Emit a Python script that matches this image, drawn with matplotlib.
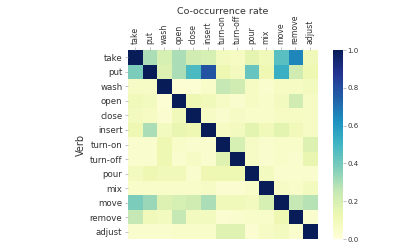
import numpy as np
import matplotlib
matplotlib.use("Agg")
import matplotlib.pyplot as plt

verbs = ["take", "put", "wash", "open", "close", "insert", "turn-on", "turn-off",
         "pour", "mix", "move", "remove", "adjust"]

take    = [1.00, 0.30, 0.20, 0.30, 0.22, 0.20, 0.08, 0.07, 0.15, 0.10, 0.45, 0.65, 0.10]
put     = [0.38, 1.00, 0.18, 0.30, 0.48, 0.78, 0.12, 0.08, 0.42, 0.12, 0.52, 0.22, 0.12]
wash    = [0.06, 0.06, 1.00, 0.02, 0.02, 0.05, 0.25, 0.22, 0.07, 0.04, 0.07, 0.07, 0.08]
open_   = [0.10, 0.08, 0.02, 1.00, 0.12, 0.10, 0.06, 0.04, 0.07, 0.05, 0.08, 0.22, 0.06]
close   = [0.08, 0.07, 0.03, 0.10, 1.00, 0.06, 0.04, 0.06, 0.05, 0.05, 0.07, 0.07, 0.06]
insert  = [0.12, 0.30, 0.08, 0.14, 0.12, 1.00, 0.07, 0.08, 0.16, 0.10, 0.16, 0.10, 0.06]
turn_on = [0.04, 0.04, 0.12, 0.05, 0.04, 0.04, 1.00, 0.20, 0.06, 0.04, 0.05, 0.05, 0.18]
turn_off= [0.04, 0.04, 0.12, 0.04, 0.06, 0.04, 0.17, 1.00, 0.06, 0.04, 0.05, 0.04, 0.14]
pour    = [0.08, 0.12, 0.10, 0.10, 0.04, 0.12, 0.12, 0.12, 1.00, 0.08, 0.04, 0.04, 0.04]
mix     = [0.05, 0.05, 0.05, 0.05, 0.05, 0.06, 0.03, 0.03, 0.05, 1.00, 0.06, 0.05, 0.08]
move    = [0.38, 0.33, 0.18, 0.20, 0.22, 0.30, 0.10, 0.10, 0.08, 0.20, 1.00, 0.25, 0.28]
remove  = [0.25, 0.10, 0.08, 0.25, 0.08, 0.08, 0.03, 0.04, 0.05, 0.05, 0.12, 1.00, 0.04]
adjust  = [0.04, 0.04, 0.04, 0.05, 0.05, 0.05, 0.17, 0.17, 0.03, 0.06, 0.08, 0.04, 1.00]

data = np.array([take, put, wash, open_, close, insert, turn_on, turn_off,
                 pour, mix, move, remove, adjust])

W, H = 419, 249
fig = plt.figure(figsize=(W/100, H/100), dpi=100)
ax = fig.add_axes([128/W, 1-239/H, 189/W, 189/H])
im = ax.imshow(data, cmap="YlGnBu", vmin=0, vmax=1, aspect="auto", interpolation="nearest")
for s in ax.spines.values():
    s.set_visible(False)
ax.set_xticks(range(len(verbs)))
ax.set_yticks(range(len(verbs)))
ax.set_xticklabels(verbs, rotation=90, fontsize=5.6, color="#333333")
ax.set_yticklabels(verbs, fontsize=6.2, color="#333333")
ax.xaxis.tick_top()
ax.tick_params(axis="both", length=2.5, width=0.5, color="#aaaaaa", pad=1.5)
ax.set_ylabel("Verb", fontsize=7, color="#333333", labelpad=3)
fig.text(222.5/W, 1-11/H, "Co-occurrence rate", ha="center", va="center", fontsize=6.8, color="#333333")

cax = fig.add_axes([333/W, 1-239/H, 10/W, 189/H])
cb = fig.colorbar(im, cax=cax)
cb.set_ticks([0, 0.2, 0.4, 0.6, 0.8, 1.0])
cb.ax.tick_params(labelsize=5, length=2, width=0.5, color="#aaaaaa", labelcolor="#333333", pad=1)
cb.outline.set_visible(False)

fig.savefig("out.png", dpi=100)
